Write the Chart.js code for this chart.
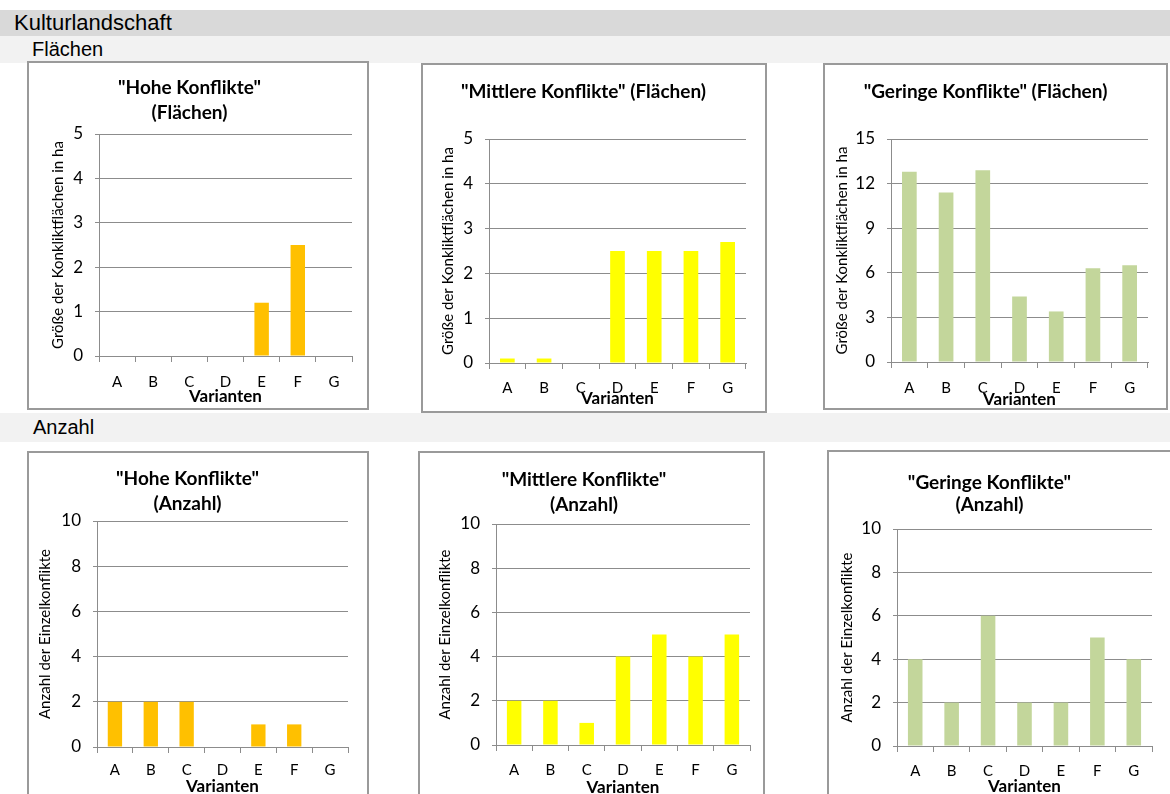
<!DOCTYPE html>
<html>
<head>
<meta charset="utf-8">
<script src="https://cdn.jsdelivr.net/npm/chart.js@4/dist/chart.umd.min.js"></script>
<style>
  html, body { margin: 0; padding: 0; background: #fff; overflow: hidden; }
  body { width: 1170px; height: 794px; position: relative; }
  .band { position: absolute; left: 0; width: 1170px; font-family: "Liberation Sans", Arial, sans-serif; color: #000; }
  .band span { position: absolute; white-space: nowrap; }
  .box { position: absolute; background: #fff; }
  .frame { position: absolute; border: 2px solid #9a9a9a; box-sizing: border-box; pointer-events: none; }
  canvas { position: absolute; }
</style>
</head>
<body>
<div class="band" style="top:10px;height:26px;background:#d9d9d9;"><span style="left:14px;top:0px;font-size:22px;">Kulturlandschaft</span></div>
<div class="band" style="top:36px;height:27px;background:#f2f2f2;"><span style="left:32px;top:2px;font-size:20px;">Flächen</span></div>
<div class="band" style="top:413px;height:29px;background:#f2f2f2;"><span style="left:33px;top:3px;font-size:20px;">Anzahl</span></div>

<script>
const variants = ['A', 'B', 'C', 'D', 'E', 'F', 'G'];

const hoheFlaechen = [0, 0, 0, 0, 1.2, 2.5, 0];
const mittlereFlaechen = [0.1, 0.1, 0, 2.5, 2.5, 2.5, 2.7];
const geringeFlaechen = [12.8, 11.4, 12.9, 4.4, 3.4, 6.3, 6.5];

const hoheAnzahl = [2, 2, 2, 0, 1, 1, 0];
const mittlereAnzahl = [2, 2, 1, 4, 5, 4, 5];
const geringeAnzahl = [4, 2, 6, 2, 2, 5, 4];

const flaechenTitle = 'Größe der Konkliktflächen in ha';
const anzahlTitle = 'Anzahl der Einzelkonflikte';
const xTitle = 'Varianten';

const ORANGE = '#FFC000';
const YELLOW = '#FFFF00';
const GREEN = '#C3D69B';
const GRID = '#8c8c8c';

Chart.defaults.font.family = 'Lato, "Open Sans", sans-serif';
Chart.defaults.color = '#000';

// box = canvas rect (left, top, right, bottom); the rest is layout tuning
const panels = [
  { title: ['"Hohe Konflikte"', '(Flächen)'], data: hoheFlaechen, color: ORANGE, yTitle: flaechenTitle, max: 5, step: 1,
    box: [27, 61, 369, 410], yWidth: 72, padRight: 17, tTop: 14.5, tBottom: 8.5, tLH: 25,
    xHeight: 54, xTickPad: 11, xTitlePad: 2.8, yTitlePad: 22 },
  { title: ['"Mittlere Konflikte" (Flächen)'], data: mittlereFlaechen, color: YELLOW, yTitle: flaechenTitle, max: 5, step: 1,
    box: [421, 63, 767, 413], yWidth: 68, padRight: 21, tTop: 16.5, tBottom: 34.5, tLH: 25,
    xHeight: 50, xTickPad: 10, xTitlePad: 3.8, yTitlePad: 18 },
  { title: ['"Geringe Konflikte" (Flächen)'], data: geringeFlaechen, color: GREEN, yTitle: flaechenTitle, max: 15, step: 3,
    box: [823, 63, 1168, 410], yWidth: 68, padRight: 20, tTop: 16.5, tBottom: 34.5, tLH: 25,
    xHeight: 48, xTickPad: 11, xTitlePad: 0, yTitlePad: 10 },
  { title: ['"Hohe Konflikte"', '(Anzahl)'], data: hoheAnzahl, color: ORANGE, yTitle: anzahlTitle, max: 10, step: 2,
    box: [27, 451, 369, 800], yWidth: 70, padRight: 21, tTop: 15.5, tBottom: 4.5, tLH: 25,
    xHeight: 53, xTickPad: 8, xTitlePad: 2.8, yTitlePad: 9 },
  { title: ['"Mittlere Konflikte"', '(Anzahl)'], data: mittlereAnzahl, color: YELLOW, yTitle: anzahlTitle, max: 10, step: 2,
    box: [418, 451, 765, 800], yWidth: 78, padRight: 15, tTop: 16.5, tBottom: 6.5, tLH: 25,
    xHeight: 55, xTickPad: 10, xTitlePad: 1.8, yTitlePad: 18 },
  { title: ['"Geringe Konflikte"', '(Anzahl)'], data: geringeAnzahl, color: GREEN, yTitle: anzahlTitle, max: 10, step: 2,
    box: [827, 450, 1180, 800], yWidth: 70, padRight: 28, tTop: 22, tBottom: 13, tLH: 22,
    xHeight: 54, xTickPad: 10, xTitlePad: 2.8, yTitlePad: 11 }
];

function makePanel(p) {
  const [l, t, r, b] = p.box;
  const w = r - l, h = b - t;

  const box = document.createElement('div');
  box.className = 'box';
  Object.assign(box.style, { left: l + 'px', top: t + 'px', width: w + 'px', height: h + 'px' });
  const canvas = document.createElement('canvas');
  canvas.width = w;
  canvas.height = h;
  canvas.style.left = '0px';
  canvas.style.top = '0px';
  box.appendChild(canvas);
  const frame = document.createElement('div');
  frame.className = 'frame';
  Object.assign(frame.style, { left: '0px', top: '0px', width: w + 'px', height: h + 'px' });
  box.appendChild(frame);
  document.body.appendChild(box);

  new Chart(canvas.getContext('2d'), {
    type: 'bar',
    data: {
      labels: variants,
      datasets: [{
        data: p.data,
        backgroundColor: p.color,
        borderWidth: 0,
        barPercentage: 0.4,
        categoryPercentage: 1
      }]
    },
    options: {
      responsive: false,
      animation: false,
      devicePixelRatio: 1,
      layout: { padding: { left: 0, right: p.padRight, top: 0, bottom: 0 } },
      plugins: {
        legend: { display: false },
        tooltip: { enabled: false },
        title: {
          display: true,
          text: p.title,
          color: '#000',
          font: { size: 19, weight: 'bold', lineHeight: p.tLH / 19 },
          padding: { top: p.tTop, bottom: p.tBottom }
        }
      },
      scales: {
        x: {
          grid: { display: true, drawOnChartArea: false, offset: true, tickLength: 6, color: GRID },
          border: { color: GRID },
          ticks: { padding: p.xTickPad, font: { size: 15 }, color: '#000' },
          title: { display: true, text: xTitle, color: '#000', font: { size: 17, weight: 'bold' }, padding: { top: 0, bottom: p.xTitlePad } },
          afterFit: (s) => { s.height = p.xHeight; }
        },
        y: {
          min: 0,
          max: p.max,
          grid: { color: GRID, tickLength: 4 },
          border: { color: GRID },
          ticks: { stepSize: p.step, padding: 12, font: { size: 17 }, color: '#000' },
          title: { display: true, text: p.yTitle, color: '#000', font: { size: 15 }, padding: { top: p.yTitlePad, bottom: 0 } },
          afterFit: (s) => { s.width = p.yWidth; }
        }
      }
    }
  });
}

panels.forEach(makePanel);
</script>
</body>
</html>
